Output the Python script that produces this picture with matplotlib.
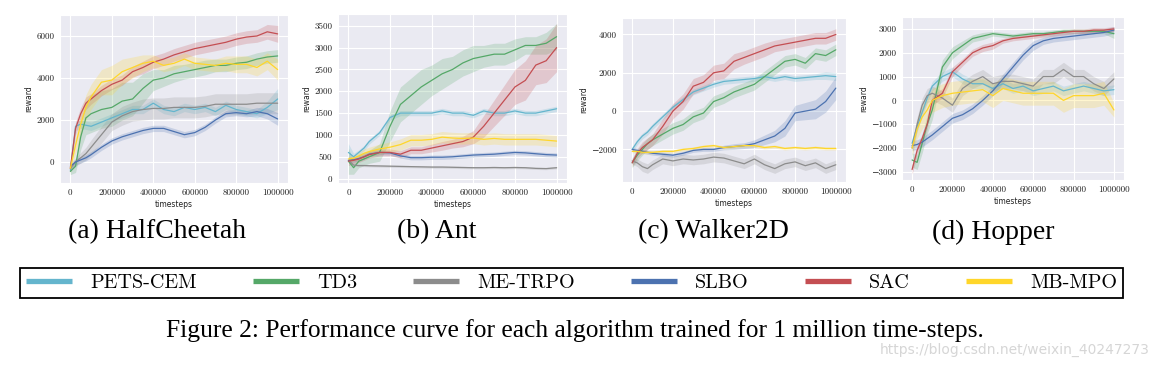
import matplotlib
matplotlib.use("Agg")
import matplotlib.pyplot as plt
import seaborn as sns
import numpy as np

sns.set_style("darkgrid")
plt.rcParams["font.family"] = ["cmr10", "DejaVu Serif"]
plt.rcParams["axes.unicode_minus"] = True
plt.rcParams["text.color"] = "black"
plt.rcParams["axes.labelcolor"] = "#222222"
plt.rcParams["xtick.color"] = "#222222"
plt.rcParams["ytick.color"] = "#222222"

# timesteps (thousands) shared by every curve
steps = [0, 25, 50, 75, 100, 150, 200, 250, 300, 350, 400, 450, 500, 550,
         600, 650, 700, 750, 800, 850, 900, 950, 1000]

algos = ["PETS-CEM", "TD3", "ME-TRPO", "SLBO", "SAC", "MB-MPO"]
colors = ["#64B5CD", "#55A868", "#8C8C8C", "#4C72B0", "#C44E52", "#FFD62A"]

# ---- HalfCheetah ----
hc_pets = [-400, 1700, 1800, 1750, 1700, 1900, 2100, 2300, 2500, 2500, 2800, 2500, 2400, 2600, 2500, 2600, 2400, 2700, 2500, 2400, 2300, 2600, 3000]
hc_pets_sd = [150, 200, 200, 200, 200, 200, 200, 200, 200, 200, 200, 200, 200, 200, 200, 200, 200, 200, 200, 200, 200, 300, 500]
hc_td3 = [-450, -200, 1200, 2100, 2300, 2500, 2600, 2900, 3000, 3500, 3900, 4000, 4200, 4300, 4400, 4500, 4600, 4600, 4700, 4750, 4900, 5000, 5050]
hc_td3_sd = [150, 300, 600, 800, 900, 900, 900, 900, 800, 700, 500, 400, 400, 350, 350, 350, 300, 300, 300, 300, 300, 300, 300]
hc_metrpo = [-300, 0, 200, 400, 700, 1300, 1900, 2200, 2400, 2500, 2550, 2550, 2600, 2600, 2600, 2650, 2750, 2750, 2750, 2750, 2800, 2800, 2800]
hc_metrpo_sd = [100, 200, 250, 300, 350, 400, 400, 450, 450, 500, 500, 500, 500, 500, 500, 500, 500, 500, 500, 500, 500, 500, 500]
hc_slbo = [-200, 0, 100, 200, 350, 700, 1000, 1200, 1350, 1500, 1600, 1600, 1450, 1300, 1400, 1650, 2000, 2300, 2350, 2300, 2400, 2300, 2050]
hc_slbo_sd = [150, 150, 150, 150, 150, 150, 150, 150, 150, 150, 150, 150, 150, 150, 150, 150, 150, 150, 150, 150, 200, 250, 300]
hc_sac = [-300, 1600, 2300, 2800, 3000, 3400, 3700, 3900, 4300, 4500, 4750, 4900, 5100, 5250, 5400, 5500, 5600, 5700, 5850, 5950, 6000, 6200, 6100]
hc_sac_sd = [200, 300, 300, 300, 250, 250, 250, 250, 250, 300, 300, 300, 300, 300, 300, 300, 300, 300, 300, 300, 300, 350, 400]
hc_mbmpo = [-300, 800, 1800, 2600, 3100, 3800, 3900, 4300, 4500, 4700, 4800, 4600, 4700, 4900, 4700, 4650, 4600, 4700, 4650, 4650, 4500, 4800, 4400]
hc_mbmpo_sd = [200, 400, 500, 600, 600, 600, 700, 600, 500, 400, 300, 300, 300, 300, 300, 300, 300, 350, 400, 400, 400, 400, 500]

# ---- Ant ----
ant_pets = [600, 500, 600, 700, 850, 1050, 1400, 1500, 1500, 1500, 1500, 1550, 1500, 1500, 1450, 1550, 1500, 1500, 1550, 1500, 1500, 1550, 1600]
ant_pets_sd = [200, 80, 60, 60, 60, 60, 60, 60, 60, 60, 60, 60, 60, 60, 60, 60, 60, 60, 60, 60, 60, 60, 60]
ant_td3 = [400, 250, 400, 450, 500, 600, 1200, 1700, 1900, 2100, 2250, 2400, 2500, 2650, 2750, 2800, 2850, 2850, 2950, 3050, 3050, 3100, 3250]
ant_td3_sd = [300, 150, 150, 150, 150, 200, 350, 400, 400, 400, 350, 350, 300, 300, 300, 250, 250, 250, 250, 200, 200, 250, 300]
ant_metrpo = [420, 310, 300, 300, 295, 290, 285, 280, 275, 270, 265, 265, 260, 255, 250, 250, 255, 250, 255, 250, 235, 230, 250]
ant_metrpo_sd = [40, 25, 25, 25, 25, 25, 25, 25, 25, 25, 25, 25, 25, 25, 25, 25, 25, 25, 25, 25, 25, 25, 25]
ant_slbo = [420, 430, 460, 500, 560, 600, 590, 520, 480, 480, 490, 490, 500, 520, 540, 550, 560, 580, 600, 590, 570, 550, 540]
ant_slbo_sd = [50, 50, 50, 50, 50, 50, 50, 50, 50, 50, 50, 50, 50, 50, 50, 50, 50, 50, 50, 50, 50, 50, 50]
ant_sac = [400, 420, 450, 500, 550, 600, 600, 560, 650, 650, 700, 750, 800, 850, 950, 1200, 1500, 1800, 2100, 2250, 2600, 2700, 3000]
ant_sac_sd = [100, 80, 80, 80, 80, 80, 80, 80, 80, 80, 90, 100, 100, 120, 150, 250, 300, 350, 400, 450, 450, 500, 550]
ant_mbmpo = [450, 470, 520, 580, 620, 680, 720, 780, 880, 880, 900, 950, 930, 920, 930, 900, 920, 900, 900, 900, 900, 880, 860]
ant_mbmpo_sd = [60, 60, 80, 100, 100, 110, 120, 130, 130, 130, 130, 130, 130, 130, 130, 130, 130, 130, 130, 130, 130, 130, 130]

# ---- Walker2D ----
wk_pets = [-2000, -1600, -1300, -1100, -800, -300, 200, 600, 1000, 1200, 1400, 1550, 1600, 1650, 1700, 1800, 1700, 1800, 1700, 1750, 1800, 1850, 1800]
wk_pets_sd = [150, 150, 150, 150, 150, 150, 150, 150, 150, 150, 150, 150, 150, 150, 150, 150, 150, 150, 150, 150, 150, 200, 200]
wk_td3 = [-2700, -2300, -2000, -1700, -1500, -1200, -900, -700, -300, -100, 500, 700, 1000, 1200, 1400, 1800, 2200, 2600, 2700, 2500, 3000, 2900, 3200]
wk_td3_sd = [250, 300, 300, 300, 300, 300, 300, 300, 300, 300, 300, 300, 300, 300, 300, 300, 300, 300, 300, 300, 300, 300, 300]
wk_metrpo = [-2600, -2700, -2900, -3000, -2800, -2500, -2600, -2500, -2550, -2500, -2400, -2450, -2600, -2750, -2500, -2800, -3000, -2750, -2650, -2850, -2700, -3000, -2800]
wk_metrpo_sd = [150, 200, 250, 250, 250, 250, 250, 250, 250, 250, 250, 250, 250, 250, 250, 250, 250, 250, 250, 250, 250, 250, 250]
wk_slbo = [-2000, -2050, -2100, -2150, -2200, -2250, -2300, -2200, -2050, -2000, -2000, -1900, -1850, -1800, -1700, -1500, -1300, -900, -100, 0, 100, 500, 1200]
wk_slbo_sd = [100, 100, 100, 100, 100, 100, 100, 100, 100, 100, 100, 120, 150, 150, 200, 250, 300, 400, 400, 450, 500, 550, 600]
wk_sac = [-2700, -2200, -1900, -1700, -1500, -800, 0, 500, 1300, 1500, 2000, 2100, 2600, 2800, 3000, 3200, 3400, 3500, 3600, 3700, 3800, 3800, 4000]
wk_sac_sd = [200, 250, 300, 300, 300, 400, 400, 400, 400, 400, 400, 400, 400, 350, 350, 350, 300, 300, 300, 300, 300, 300, 300]
wk_mbmpo = [-2100, -2100, -2150, -2150, -2150, -2100, -2100, -2000, -1950, -1850, -1800, -1900, -1850, -1800, -1800, -1900, -1850, -1950, -1900, -1950, -1900, -1950, -1950]
wk_mbmpo_sd = [80, 80, 80, 80, 80, 80, 80, 80, 80, 80, 80, 80, 80, 80, 80, 80, 80, 80, 80, 80, 80, 80, 80]

# ---- Hopper ----
hp_pets = [-1800, -1100, -500, 100, 600, 1000, 1200, 900, 700, 700, 500, 700, 500, 600, 400, 500, 600, 400, 500, 600, 500, 400, 450]
hp_pets_sd = [200, 200, 200, 200, 200, 200, 200, 200, 200, 200, 200, 200, 200, 200, 200, 200, 200, 200, 200, 200, 200, 200, 200]
hp_td3 = [-2500, -2600, -1800, -1000, -400, 1400, 2000, 2300, 2600, 2700, 2800, 2750, 2700, 2750, 2800, 2800, 2850, 2900, 2900, 2900, 2900, 2900, 2800]
hp_td3_sd = [300, 300, 400, 400, 400, 300, 250, 200, 150, 150, 100, 100, 100, 100, 100, 100, 100, 100, 100, 100, 100, 100, 200]
hp_metrpo = [-2000, -1000, -200, 200, 300, 100, -200, 500, 800, 1000, 700, 800, 800, 700, 600, 1000, 1000, 1300, 1000, 1000, 700, 500, 900]
hp_metrpo_sd = [300, 300, 300, 300, 300, 300, 300, 300, 300, 300, 300, 300, 300, 300, 300, 300, 300, 300, 300, 300, 300, 300, 300]
hp_slbo = [-1900, -1850, -1750, -1600, -1450, -1100, -750, -600, -350, 0, 400, 900, 1400, 1900, 2300, 2500, 2600, 2650, 2700, 2750, 2800, 2850, 2950]
hp_slbo_sd = [200, 200, 200, 200, 200, 200, 200, 200, 200, 200, 200, 200, 200, 200, 200, 150, 150, 150, 150, 150, 150, 150, 150]
hp_sac = [-2900, -2100, -1600, -1000, 0, 300, 1200, 1600, 2000, 2200, 2300, 2500, 2600, 2650, 2700, 2750, 2800, 2850, 2900, 2900, 2950, 2950, 3000]
hp_sac_sd = [200, 200, 200, 200, 200, 200, 200, 150, 150, 150, 150, 100, 100, 100, 100, 100, 100, 100, 100, 100, 100, 100, 100]
hp_mbmpo = [-2000, -1200, -700, -400, 0, 200, 300, 350, 400, 450, 200, 500, 400, 300, 300, 300, 300, 0, 200, 200, 200, 300, -400]
hp_mbmpo_sd = [300, 400, 500, 500, 500, 500, 500, 500, 500, 500, 500, 500, 500, 500, 500, 500, 500, 500, 500, 500, 500, 500, 300]

envs = [
    ("(a) HalfCheetah", [hc_pets, hc_td3, hc_metrpo, hc_slbo, hc_sac, hc_mbmpo],
     [hc_pets_sd, hc_td3_sd, hc_metrpo_sd, hc_slbo_sd, hc_sac_sd, hc_mbmpo_sd],
     [0, 2000, 4000, 6000], (-1000, 7000), [60, 288, 15, 183], 157),
    ("(b) Ant", [ant_pets, ant_td3, ant_metrpo, ant_slbo, ant_sac, ant_mbmpo],
     [ant_pets_sd, ant_td3_sd, ant_metrpo_sd, ant_slbo_sd, ant_sac_sd, ant_mbmpo_sd],
     [0, 500, 1000, 1500, 2000, 2500, 3000, 3500], (-100, 3770), [338, 567, 14, 183], 437),
    ("(c) Walker2D", [wk_pets, wk_td3, wk_metrpo, wk_slbo, wk_sac, wk_mbmpo],
     [wk_pets_sd, wk_td3_sd, wk_metrpo_sd, wk_slbo_sd, wk_sac_sd, wk_mbmpo_sd],
     [-2000, 0, 2000, 4000], (-3700, 4860), [622, 846, 18, 182], 713),
    ("(d) Hopper", [hp_pets, hp_td3, hp_metrpo, hp_slbo, hp_sac, hp_mbmpo],
     [hp_pets_sd, hp_td3_sd, hp_metrpo_sd, hp_slbo_sd, hp_sac_sd, hp_mbmpo_sd],
     [-3000, -2000, -1000, 0, 1000, 2000, 3000], (-3340, 3500), [902, 1124, 17, 180], 993),
]

W, H = 1162, 367
fig = plt.figure(figsize=(W / 100, H / 100), dpi=100)
x = np.array(steps) * 1000
xt = [0, 200000, 400000, 600000, 800000, 1000000]

for title, means, sds, yt, ylim, box, tx in envs:
    l, r, t, b = box
    ax = fig.add_axes([l / W, 1 - b / H, (r - l) / W, (b - t) / H])
    for m, s, c in zip(means, sds, colors):
        m = np.array(m, float)
        s = np.array(s, float)
        ax.fill_between(x, m - s, m + s, color=c, alpha=0.22, lw=0)
        ax.plot(x, m, color=c, lw=0.9)
    ax.set_xlim(-50000, 1050000)
    ax.set_ylim(*ylim)
    ax.set_xticks(xt)
    ax.set_xticklabels([str(v) for v in xt])
    ax.set_yticks(yt)
    ax.set_yticklabels([str(v).replace("-", "\u2212") for v in yt])
    ax.tick_params(labelsize=6.5, pad=4, length=0)
    ax.set_xlabel("timesteps", family="DejaVu Sans", fontsize=5.5, labelpad=2)
    ax.set_ylabel("reward", family="DejaVu Sans", fontsize=5.5, labelpad=2)
    fig.text(tx / W, 1 - 232 / H, title, family="Liberation Serif",
             fontsize=20, ha="center", va="center")

handles = [plt.Line2D([], [], color=c, lw=3.8, solid_capstyle="butt") for c in colors]
leg = fig.legend(handles, algos, loc="lower left", mode="expand", ncol=6,
                 bbox_to_anchor=(20 / W, 1 - 298 / H, 1103 / W, 33 / H),
                 borderaxespad=0, prop={"family": ["cmr10"], "size": 14.5},
                 handlelength=2.3, handletextpad=0.9, fancybox=False,
                 frameon=True, borderpad=0.3, framealpha=1)
leg.get_frame().set_edgecolor("black")
leg.get_frame().set_facecolor("white")
leg.get_frame().set_linewidth(1.3)

fig.text(575 / W, 1 - 331 / H,
         "Figure 2: Performance curve for each algorithm trained for 1 million time-steps.",
         family="Liberation Serif", fontsize=18.4, ha="center", va="center")
fig.text(1150 / W, 1 - 350 / H, "https://blog.csdn.net/weixin_40247273",
         family="DejaVu Sans", fontsize=10, color="#d6d6d6", ha="right", va="center")

fig.savefig("out.png", dpi=100)
